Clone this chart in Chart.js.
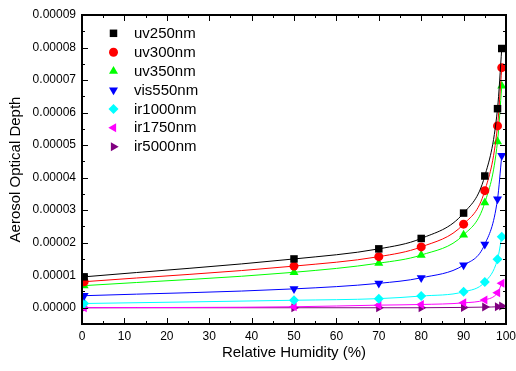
<!DOCTYPE html>
<html>
<head>
<meta charset="utf-8">
<script src="https://cdn.jsdelivr.net/npm/chart.js@4.4.0/dist/chart.umd.min.js"></script>
<style>
  html, body { margin: 0; padding: 0; background: #fff; }
</style>
</head>
<body>
<canvas id="chart" width="516" height="371"></canvas>
<script>
// relative humidity (%) of the measured points
const humidity = [0.5, 50, 70, 80, 90, 95, 98, 99];

// aerosol optical depth per wavelength
const uv250 = [0.95e-5, 1.50e-5, 1.81e-5, 2.13e-5, 2.91e-5, 4.05e-5, 6.12e-5, 7.97e-5];
const uv300 = [0.80e-5, 1.28e-5, 1.57e-5, 1.87e-5, 2.57e-5, 3.60e-5, 5.59e-5, 7.38e-5];
const uv350 = [0.68e-5, 1.09e-5, 1.37e-5, 1.62e-5, 2.24e-5, 3.23e-5, 5.11e-5, 6.82e-5];
const vis550 = [0.37e-5, 0.58e-5, 0.75e-5, 0.92e-5, 1.31e-5, 1.95e-5, 3.34e-5, 4.68e-5];
const ir1000 = [0.13e-5, 0.23e-5, 0.28e-5, 0.36e-5, 0.49e-5, 0.79e-5, 1.49e-5, 2.18e-5];
const ir1750 = [0.00e-5, 0.03e-5, 0.08e-5, 0.10e-5, 0.15e-5, 0.24e-5, 0.46e-5, 0.75e-5];
const ir5000 = [0.00e-5, 0.00e-5, 0.00e-5, 0.00e-5, 0.01e-5, 0.02e-5, 0.03e-5, 0.05e-5];

const xTickValues = [0, 10, 20, 30, 40, 50, 60, 70, 80, 90, 100];
const yTickValues = [0, 0.00001, 0.00002, 0.00003, 0.00004, 0.00005, 0.00006, 0.00007, 0.00008, 0.00009];

const FONT = '"Liberation Sans", Arial, sans-serif';

function series(label, values, color, style, rotation, radius) {
    return {
        label: label,
        data: humidity.map((h, i) => ({ x: h, y: values[i] })),
        borderColor: color,
        backgroundColor: color,
        borderWidth: 1,
        pointStyle: style,
        pointRotation: rotation,
        pointRadius: radius,
        pointBorderWidth: 0,
        cubicInterpolationMode: 'monotone'
    };
}

const datasets = [
    series('uv250nm', uv250, '#000000', 'rect', 0, 5.3),
    series('uv300nm', uv300, '#ff0000', 'circle', 0, 4.5),
    series('uv350nm', uv350, '#00ff00', 'triangle', 0, 5.2),
    series('vis550nm', vis550, '#0000ff', 'triangle', 180, 5.2),
    series('ir1000nm', ir1000, '#00ffff', 'rectRot', 0, 5),
    series('ir1750nm', ir1750, '#ff00ff', 'triangle', 270, 5.2),
    series('ir5000nm', ir5000, '#800080', 'triangle', 90, 5.2)
];

// legend drawn inside the plot, markers only
const insideLegend = {
    id: 'insideLegend',
    afterDraw(chart) {
        const ctx = chart.ctx;
        ctx.save();
        ctx.font = '15px ' + FONT;
        ctx.textBaseline = 'middle';
        chart.data.datasets.forEach((ds, i) => {
            const y = 33.3 + i * 18.9;
            ctx.fillStyle = ds.backgroundColor;
            Chart.helpers.drawPoint(ctx, {
                pointStyle: ds.pointStyle,
                rotation: ds.pointRotation,
                radius: ds.pointRadius,
                borderWidth: 0
            }, 113.5, y);
            ctx.fillStyle = '#000';
            ctx.fillText(ds.label, 134, y + 0.5);
        });
        ctx.restore();
    }
};

// box around the plot with inward ticks on all four sides
const frame = {
    id: 'frame',
    afterDraw(chart) {
        const { ctx, chartArea: a, scales: { x, y } } = chart;
        ctx.save();
        ctx.strokeStyle = '#000';
        ctx.lineWidth = 1;
        ctx.beginPath();
        xTickValues.forEach((v, i) => {
            const px = Math.round(x.getPixelForValue(v)) + 0.5;
            ctx.moveTo(px, a.bottom); ctx.lineTo(px, a.bottom - 6);
            ctx.moveTo(px, a.top); ctx.lineTo(px, a.top + 6);
            if (i < xTickValues.length - 1) {
                const mx = Math.round(x.getPixelForValue((v + xTickValues[i + 1]) / 2)) + 0.5;
                ctx.moveTo(mx, a.bottom); ctx.lineTo(mx, a.bottom - 3);
                ctx.moveTo(mx, a.top); ctx.lineTo(mx, a.top + 3);
            }
        });
        const yMinor = [yTickValues[0] - (yTickValues[1] - yTickValues[0]) / 2];
        yTickValues.forEach((v, i) => {
            const py = Math.round(y.getPixelForValue(v)) + 0.5;
            ctx.moveTo(a.left, py); ctx.lineTo(a.left + 6, py);
            ctx.moveTo(a.right, py); ctx.lineTo(a.right - 6, py);
            if (i < yTickValues.length - 1) yMinor.push((v + yTickValues[i + 1]) / 2);
        });
        yMinor.forEach(v => {
            const py = Math.round(y.getPixelForValue(v)) + 0.5;
            ctx.moveTo(a.left, py); ctx.lineTo(a.left + 3, py);
            ctx.moveTo(a.right, py); ctx.lineTo(a.right - 3, py);
        });
        ctx.stroke();
        ctx.lineWidth = 2;
        ctx.strokeRect(a.left, a.top, a.right - a.left, a.bottom - a.top);
        ctx.restore();
    }
};

const ctx = document.getElementById('chart').getContext('2d');
const chart = new Chart(ctx, {
    type: 'line',
    data: { datasets: datasets },
    plugins: [frame, insideLegend],
    options: {
        responsive: false,
        animation: false,
        layout: { padding: { left: 0, top: 15, right: 0, bottom: 0 } },
        plugins: {
            legend: { display: false },
            tooltip: { enabled: false }
        },
        scales: {
            x: {
                type: 'linear',
                min: 0,
                max: 100,
                afterBuildTicks: scale => { scale.ticks = xTickValues.map(v => ({ value: v })); },
                afterFit: scale => {
                    scale.height = 47;
                    scale.paddingLeft = 0;
                    scale.paddingRight = 10;
                },
                grid: { display: false, drawTicks: false },
                border: { display: false },
                ticks: {
                    color: '#000',
                    padding: 5,
                    maxRotation: 0,
                    font: { family: FONT, size: 12 }
                },
                title: {
                    display: true,
                    text: 'Relative Humidity (%)',
                    color: '#000',
                    font: { family: FONT, size: 15 },
                    padding: { top: 0, bottom: 9 }
                }
            },
            y: {
                min: -0.000005,
                max: 0.00009,
                afterBuildTicks: scale => { scale.ticks = yTickValues.map(v => ({ value: v })); },
                afterFit: scale => { scale.width = 82; },
                grid: { display: false, drawTicks: false },
                border: { display: false },
                ticks: {
                    color: '#000',
                    padding: 6,
                    font: { family: FONT, size: 12 },
                    callback: v => v.toFixed(5)
                },
                title: {
                    display: true,
                    text: 'Aerosol Optical Depth',
                    color: '#000',
                    font: { family: FONT, size: 15 },
                    padding: { top: 7, bottom: 0 }
                }
            }
        }
    }
});
</script>
</body>
</html>
